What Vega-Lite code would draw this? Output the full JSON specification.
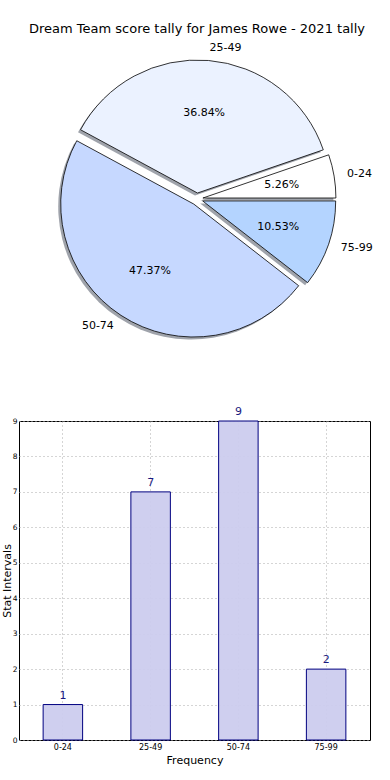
{
  "$schema": "https://vega.github.io/schema/vega-lite/v6.json",
  "autosize": {"type": "pad"},
  "padding": {"left": 0, "top": 22, "right": 10, "bottom": 10},
  "background": "white",
  "config": {
    "font": "DejaVu Sans",
    "concat": {"spacing": 82}
  },
  "data": {
    "values": [
      {"bin": "0-24", "count": 1, "pct": "5.26%"},
      {"bin": "25-49", "count": 7, "pct": "36.84%"},
      {"bin": "50-74", "count": 9, "pct": "47.37%"},
      {"bin": "75-99", "count": 2, "pct": "10.53%"}
    ]
  },
  "bounds": "flush",
  "vconcat": [
    {
      "width": 356,
      "height": 280,
      "view": {"stroke": null},
      "title": {
        "text": "Dream Team score tally for James Rowe - 2021 tally",
        "fontSize": 13,
        "fontWeight": "normal",
        "color": "black",
        "anchor": "middle",
        "offset": 6
      },
      "encoding": {
        "theta": {
          "field": "count",
          "type": "quantitative",
          "stack": "normalize",
          "scale": {"domain": [0, 1], "range": [-4.712389, 1.570796]}
        },
        "order": {"field": "bin", "type": "ordinal", "sort": "descending"}
      },
      "layer": [
        {
          "mark": {
            "type": "arc",
            "outerRadius": 133,
            "fill": "#404858",
            "opacity": 0.5,
            "xOffset": {"expr": "6*sin(-3*PI/2 + PI*(datum.count_start+datum.count_end)) - 2.5"},
            "yOffset": {"expr": "-6*cos(-3*PI/2 + PI*(datum.count_start+datum.count_end)) + 2.5"}
          }
        },
        {
          "mark": {
            "type": "arc",
            "outerRadius": 133,
            "stroke": "black",
            "strokeWidth": 0.8,
            "opacity": 1,
            "xOffset": {"expr": "6*sin(-3*PI/2 + PI*(datum.count_start+datum.count_end))"},
            "yOffset": {"expr": "-6*cos(-3*PI/2 + PI*(datum.count_start+datum.count_end))"}
          },
          "encoding": {
            "color": {
              "field": "bin",
              "type": "nominal",
              "legend": null,
              "scale": {
                "domain": ["0-24", "25-49", "50-74", "75-99"],
                "range": ["#ffffff", "#ebf2ff", "#c6d8ff", "#b4d4ff"]
              }
            }
          }
        },
        {
          "mark": {
            "type": "text",
            "radius": 80,
            "fontSize": 11,
            "color": "black",
            "baseline": "middle",
            "xOffset": {"expr": "6*sin(-3*PI/2 + PI*(datum.count_start+datum.count_end))"},
            "yOffset": {"expr": "-6*cos(-3*PI/2 + PI*(datum.count_start+datum.count_end))"}
          },
          "encoding": {"text": {"field": "pct", "type": "nominal"}}
        },
        {
          "mark": {
            "type": "text",
            "radius": 146,
            "fontSize": 11,
            "color": "black",
            "baseline": "middle",
            "align": {"expr": "sin(-3*PI/2 + PI*(datum.count_start+datum.count_end)) > 0 ? 'left' : 'right'"},
            "xOffset": {"expr": "6*sin(-3*PI/2 + PI*(datum.count_start+datum.count_end))"},
            "yOffset": {"expr": "-6*cos(-3*PI/2 + PI*(datum.count_start+datum.count_end))"}
          },
          "encoding": {"text": {"field": "bin", "type": "nominal"}}
        }
      ]
    },
    {
      "width": 351,
      "height": 319,
      "view": {"stroke": "black", "strokeWidth": 1},
      "encoding": {
        "x": {
          "field": "bin",
          "type": "nominal",
          "sort": ["0-24", "25-49", "50-74", "75-99"],
          "scale": {"paddingInner": 0, "paddingOuter": 0},
          "axis": {
            "title": "Frequency",
            "titleFontSize": 11,
            "titleFontWeight": "normal",
            "titleColor": "black",
            "titlePadding": 3,
            "labelFontSize": 8,
            "labelColor": "black",
            "labelAngle": 0,
            "labelPadding": 3,
            "ticks": false,
            "domain": false,
            "grid": true,
            "bandPosition": 0.5,
            "gridColor": "#aaaaaa",
            "gridDash": [1, 3],
            "gridWidth": 1
          }
        },
        "y": {
          "field": "count",
          "type": "quantitative",
          "scale": {"domain": [0, 9], "nice": false},
          "axis": {
            "title": "Stat Intervals",
            "titleFontSize": 11,
            "titleFontWeight": "normal",
            "titleColor": "black",
            "titlePadding": 0,
            "values": [0, 1, 2, 3, 4, 5, 6, 7, 8, 9],
            "labelFontSize": 7.5,
            "labelColor": "black",
            "labelPadding": 2,
            "ticks": false,
            "domain": false,
            "grid": true,
            "gridColor": "#aaaaaa",
            "gridDash": [1, 3],
            "gridWidth": 1
          }
        }
      },
      "layer": [
        {
          "mark": {
            "type": "bar",
            "width": {"band": 0.45},
            "fill": "#ccccee",
            "fillOpacity": 0.95,
            "stroke": "#000080",
            "strokeWidth": 1
          }
        },
        {
          "mark": {
            "type": "text",
            "dy": -9,
            "fontSize": 11,
            "color": "#1a1a80",
            "baseline": "middle"
          },
          "encoding": {"text": {"field": "count", "type": "quantitative"}}
        }
      ]
    }
  ]
}
